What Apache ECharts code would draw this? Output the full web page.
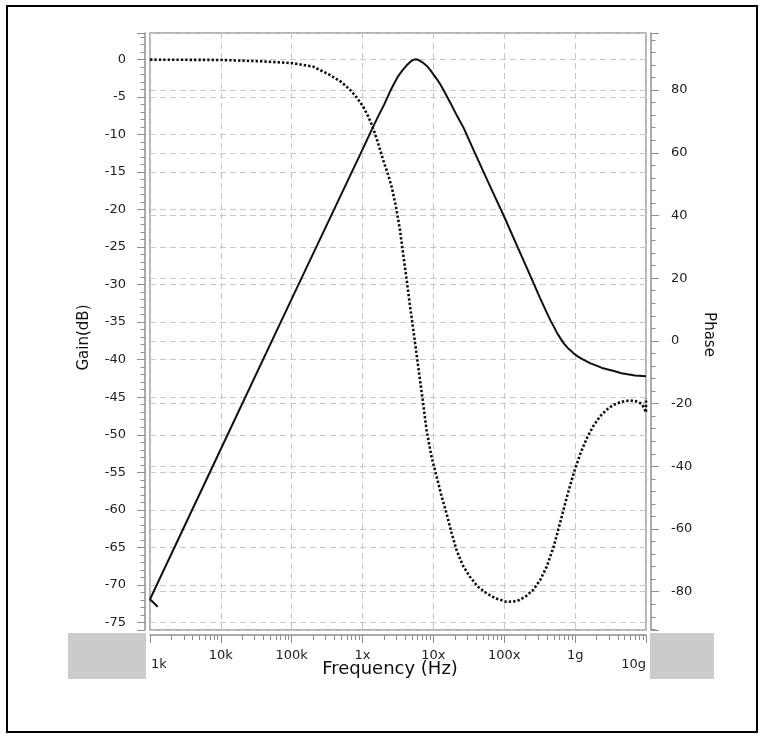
<!DOCTYPE html>
<html><head><meta charset="utf-8">
<script src="https://cdn.jsdelivr.net/npm/echarts@6/dist/echarts.min.js"></script>
<style>html,body{margin:0;padding:0;background:#fff}#c{width:768px;height:738px}</style>
</head><body><div id="c"></div>
<script>
// ---- data ----
const freqTickLabels = ['1k','10k','100k','1x','10x','100x','1g','10g'];

const gainFreq = [1285, 1000, 1e4, 1e5, 1e6, 1.39e6, 1.7e6, 2.0e6, 2.44e6, 2.8e6, 3.2e6, 3.7e6, 4.19e6, 4.7e6, 5.2e6, 5.67e6, 6.2e6, 7.0e6, 8.0e6, 9.0e6, 1.0e7, 1.13e7, 1.26e7, 1.5e7, 1.8e7, 2.2e7, 2.69e7, 3.73e7, 5.75e7, 9.9e7, 2.35e8, 3.2e8, 4.05e8, 4.5e8, 5.0e8, 5.6e8, 6.24e8, 7.0e8, 7.8e8, 8.7e8, 9.6e8, 1.1e9, 1.3e9, 1.65e9, 2.0e9, 2.4e9, 3.0e9, 3.53e9, 4.5e9, 5.5e9, 7.0e9, 1e10];
const gainDb   = [-72.9, -71.9, -51.9, -31.9, -12.0, -9.1, -7.4, -6.1, -4.3, -3.2, -2.2, -1.4, -0.8, -0.35, -0.08, 0.0, -0.1, -0.4, -0.85, -1.4, -2.0, -2.7, -3.4, -4.7, -6.1, -7.7, -9.2, -12.2, -16.1, -20.9, -28.9, -31.8, -33.9, -34.8, -35.6, -36.5, -37.2, -37.9, -38.4, -38.8, -39.2, -39.6, -40.0, -40.5, -40.8, -41.1, -41.35, -41.5, -41.8, -41.95, -42.1, -42.2];

const phaseFreq = [1e3, 1e4, 3.5e4, 1e5, 2e5, 3.47e5, 5e5, 6.64e5, 8.3e5, 1.02e6, 1.2e6, 1.39e6, 1.65e6, 1.95e6, 2.25e6, 2.57e6, 2.95e6, 3.37e6, 3.75e6, 4.19e6, 4.65e6, 5.2e6, 5.8e6, 6.46e6, 7.2e6, 8.0e6, 9.4e6, 1.11e7, 1.3e7, 1.53e7, 1.8e7, 2.12e7, 2.6e7, 3.27e7, 4.2e7, 5.63e7, 7.5e7, 1.07e8, 1.35e8, 1.65e8, 2.05e8, 2.56e8, 3.2e8, 3.97e8, 5.0e8, 6.17e8, 7.7e8, 9.6e8, 1.2e9, 1.48e9, 1.8e9, 2.24e9, 2.8e9, 3.47e9, 4.5e9, 5.9e9, 7.0e9, 8.0e9, 8.8e9, 9.4e9, 1e10, 1e10];
const phaseDeg  = [89.7, 89.6, 89.2, 88.6, 87.5, 84.8, 82.6, 80.1, 77.6, 74.7, 71.6, 68.2, 63.2, 57.7, 53.6, 49.2, 43.0, 35.4, 27.5, 19.5, 11.5, 3.5, -4.5, -12.4, -20.4, -28.4, -37.0, -43.3, -49.5, -55.0, -61.2, -66.7, -71.6, -75.2, -78.3, -80.5, -82.1, -83.2, -83.1, -82.6, -81.3, -79.4, -76.3, -72.0, -65.5, -57.8, -49.5, -42.0, -35.6, -30.8, -27.2, -24.1, -21.9, -20.4, -19.4, -19.0, -19.2, -19.6, -20.3, -21.4, -22.8, -18.3];

// ---- chart ----
const FONT = 'DejaVu Sans';
const gainPairs = gainFreq.map((f, i) => [f, gainDb[i]]);
const phasePairs = phaseFreq.map((f, i) => [f, phaseDeg[i]]);

const axisGray = '#8f8f8f';
const gridLine = { show: true, lineStyle: { color: '#c8c8c8', width: 1, type: [6, 4] } };

const chart = echarts.init(document.getElementById('c'), null, { renderer: 'canvas' });
chart.setOption({
  animation: false,
  backgroundColor: '#ffffff',
  graphic: [
    { type: 'rect', z: -10, shape: { x: 68, y: 633, width: 78, height: 46 }, style: { fill: '#cbcbcb' } },
    { type: 'rect', z: -10, shape: { x: 650, y: 633, width: 64, height: 46 }, style: { fill: '#cbcbcb' } },
    { type: 'rect', z: 100, shape: { x: 7, y: 6, width: 750, height: 726 }, style: { fill: 'none', stroke: '#000', lineWidth: 2 } }
  ],
  grid: {
    left: 150, top: 33, width: 496, height: 597,
    show: true, borderColor: '#9a9a9a', borderWidth: 1.5, backgroundColor: '#fff'
  },
  xAxis: {
    type: 'log', logBase: 10, min: 1e3, max: 1e10,
    position: 'bottom', offset: 5,
    name: 'Frequency (Hz)', nameLocation: 'middle', nameGap: 25, nameMoveOverlap: false,
    nameTextStyle: { fontFamily: FONT, fontSize: 18, color: '#111', padding: [0, 16, 0, 0] },
    axisLine: { show: true, onZero: false, lineStyle: { color: axisGray, width: 1.5 } },
    axisTick: { show: true, length: 8, lineStyle: { color: axisGray } },
    minorTick: { show: true, splitNumber: 9, length: 5, lineStyle: { color: axisGray } },
    splitLine: gridLine,
    axisLabel: {
      fontFamily: FONT, fontSize: 13, color: '#222', margin: 14,
      alignMaxLabel: 'right',
      formatter: function (v) {
        const i = Math.round(Math.log10(v)) - 3;
        const t = freqTickLabels[i] || '';
        if (i === 0) return '{first|' + t + '}';
        if (i === freqTickLabels.length - 1) return '{lo|' + t + '}';
        return t;
      },
      rich: {
        lo: { fontFamily: FONT, fontSize: 13, color: '#222', lineHeight: 31 },
        first: { fontFamily: FONT, fontSize: 13, color: '#222', lineHeight: 31, padding: [0, 0, 0, 18] }
      }
    }
  },
  yAxis: [
    {
      type: 'value', position: 'left', offset: 5,
      min: -76, max: 3.5, minInterval: 5, maxInterval: 5,
      name: 'Gain(dB)', nameLocation: 'middle', nameGap: 53, nameMoveOverlap: false,
      nameTextStyle: { fontFamily: FONT, fontSize: 15, color: '#111', padding: [0, 12, 0, 0] },
      axisLine: { show: true, onZero: false, lineStyle: { color: axisGray, width: 1.5 } },
      axisTick: { show: true, length: 8, lineStyle: { color: axisGray } },
      minorTick: { show: true, splitNumber: 5, length: 4.5, lineStyle: { color: axisGray } },
      splitLine: gridLine,
      axisLabel: { fontFamily: FONT, fontSize: 13, color: '#222', margin: 19, showMinLabel: false, showMaxLabel: false }
    },
    {
      type: 'value', position: 'right', offset: 5,
      min: -92.2, max: 98.2, minInterval: 20, maxInterval: 20,
      name: 'Phase', nameLocation: 'middle', nameGap: 50, nameRotate: -90, nameMoveOverlap: false,
      nameTextStyle: { fontFamily: FONT, fontSize: 15, color: '#111', padding: [0, 0, 0, 6] },
      axisLine: { show: true, onZero: false, lineStyle: { color: axisGray, width: 1.5 } },
      axisTick: { show: true, length: 8, lineStyle: { color: axisGray } },
      minorTick: { show: true, splitNumber: 5, length: 4.5, lineStyle: { color: axisGray } },
      splitLine: gridLine,
      axisLabel: { fontFamily: FONT, fontSize: 13, color: '#222', margin: 20, showMinLabel: false, showMaxLabel: false }
    }
  ],
  series: [
    {
      name: 'Gain', type: 'line', yAxisIndex: 0, data: gainPairs,
      showSymbol: false, smooth: false, z: 5,
      lineStyle: { color: '#111', width: 2 }
    },
    {
      name: 'Phase', type: 'line', yAxisIndex: 1, data: phasePairs,
      showSymbol: false, smooth: false, z: 4,
      lineStyle: { color: '#111', width: 2.6, type: [2.4, 2], cap: 'butt' }
    }
  ]
});
</script>
</body></html>
